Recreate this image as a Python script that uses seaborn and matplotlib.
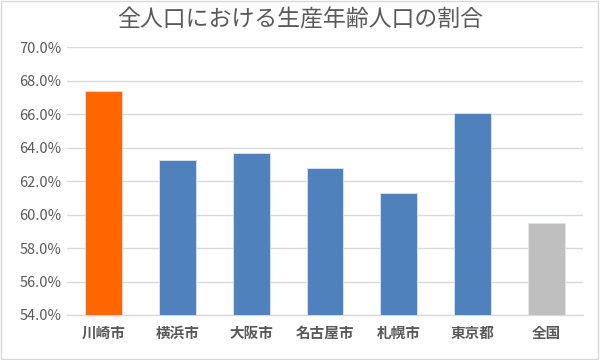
import matplotlib
matplotlib.use("Agg")
import matplotlib.pyplot as plt
import seaborn as sns
import pandas as pd
from matplotlib.ticker import FuncFormatter
from matplotlib.patches import Rectangle

categories = ["川崎市", "横浜市", "大阪市", "名古屋市", "札幌市", "東京都", "全国"]
values = [67.4, 63.25, 63.7, 62.8, 61.3, 66.05, 59.5]
colors = ["#FF6600", "#4F81BD", "#4F81BD", "#4F81BD", "#4F81BD", "#4F81BD", "#BFBFBF"]
yticks = [54, 56, 58, 60, 62, 64, 66, 68, 70]
title = "全人口における生産年齢人口の割合"

sns.set_theme(style="white")
plt.rcParams['font.family'] = ['Noto Sans CJK JP', 'DejaVu Sans']

df = pd.DataFrame({"cat": categories, "val": values})

fig = plt.figure(figsize=(6, 3.6), dpi=100)
ax = fig.add_axes([0.1117, 0.125, 0.86, 0.7444])
sns.barplot(data=df, x="cat", y="val", hue="cat", palette=colors, legend=False,
            saturation=1, width=0.5, ax=ax, edgecolor="#DCE6F2", linewidth=0.6, zorder=3)

ax.set_ylim(54, 70)
ax.set_yticks(yticks)
ax.yaxis.set_major_formatter(FuncFormatter(lambda v, p: f"{v:.1f}%"))
ax.grid(axis="y", color="#D9D9D9", linewidth=1.0, zorder=0)
ax.set_axisbelow(True)
for s in ["top", "right", "left"]:
    ax.spines[s].set_visible(False)
ax.spines["bottom"].set_color("#D9D9D9")
ax.spines["bottom"].set_linewidth(1.0)
ax.set_xlabel("")
ax.set_ylabel("")
ax.tick_params(axis="y", length=0, labelsize=10.5, labelcolor="#595959", pad=4)
ax.tick_params(axis="x", length=0, labelsize=10.5, labelcolor="#595959", pad=7)
for lbl in ax.get_xticklabels():
    lbl.set_fontweight("bold")
ax.set_xlim(-0.5, len(categories) - 0.5)

fig.text(0.5, 0.945, title, ha="center", va="center", fontsize=16.5, color="#595959")
fig.patches.append(Rectangle((0.002, 0.003), 0.995, 0.994, transform=fig.transFigure,
                             fill=False, edgecolor="#D9D9D9", linewidth=1.0))

fig.savefig("out.png", dpi=100)
